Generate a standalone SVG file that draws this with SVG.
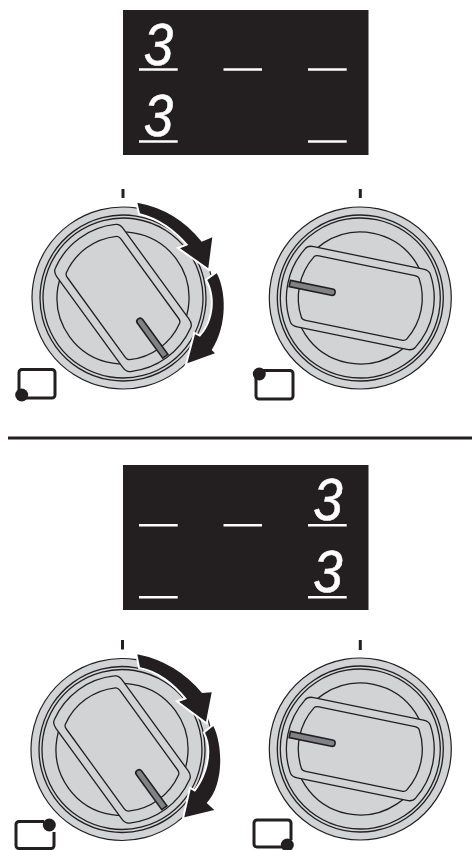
<svg xmlns="http://www.w3.org/2000/svg" width="472" height="850" viewBox="0 0 472 850">
<style>
.panel{fill:#231f20}
.bar{stroke:#fff;stroke-width:2.4;fill:none}
.digit{fill:#fff;stroke:#fff;stroke-width:.6;font-family:"Liberation Sans",Arial,sans-serif;font-style:italic;font-size:60px;text-anchor:middle}
.tick{stroke:#231f20;stroke-width:3;fill:none}
.disc{fill:#d1d3d4;stroke:#231f20;stroke-width:1.2}
.line{fill:none;stroke:#231f20;stroke-width:1.3}
.handle{fill:#d1d3d4;stroke:#231f20;stroke-width:1.3}
.pointer{fill:#808285;stroke:#231f20;stroke-width:1.6}
.arrow{fill:#231f20;stroke:#fff;stroke-width:4;stroke-linejoin:miter;paint-order:stroke}
.icon{fill:none;stroke:#231f20;stroke-width:3}
.dot{fill:#231f20}
</style>
<defs>
<g id="knob">
<circle class="disc" r="91"/>
<circle class="line" r="83"/>
<circle class="line" r="80"/>
<circle class="line" r="66"/>
<path class="handle" d="M-56,-41H56Q62,-41 64,-37A74,74 0 0 1 64,37Q62,41 56,41H-56Q-62,41 -64,37A74,74 0 0 1 -64,-37Q-62,-41 -56,-41Z"/>
<path class="line" d="M-49,-33H49Q52.500,-33 53.700,-31A62,62 0 0 1 53.700,31Q52.500,33 49,33H-49Q-52.500,33 -53.700,31A62,62 0 0 1 -53.700,-31Q-52.500,-33 -49,-33Z"/>
<path class="pointer" d="M-72,-3.200H-29a3.200,3.200 0 0 1 0,6.400H-72Z"/>
</g>
</defs>
<g id="display-top">
<rect class="panel" x="123" y="10" width="245.500" height="145"/>
<text class="digit" transform="translate(158.500,65) scale(.88,1)">3</text>
<text class="digit" transform="translate(158.500,136) scale(.88,1)">3</text>
<path class="bar" d="M139,69.500H177.700M223.500,69.500H262M308,69.500H346.700M139,141.500H177.700M308,141.500H346.700"/>
</g>
<g id="knob-top-left">
<path class="tick" d="M123,189V198"/>
<use href="#knob" transform="translate(123,298) rotate(-126)"/>
<path class="icon" d="M20.500,369.500H52a3,3 0 0 1 3,3V395a3,3 0 0 1 -3,3H24M19,393V372.500a3,3 0 0 1 3,-3"/>
<circle class="dot" cx="21.700" cy="395" r="6.500"/>
</g>
<g id="knob-top-right">
<path class="tick" d="M360.300,189V198"/>
<use href="#knob" transform="translate(360.300,298) rotate(11.600)"/>
<path class="icon" d="M262,370.500H290a3,3 0 0 1 3,3V396a3,3 0 0 1 -3,3H259a3,3 0 0 1 -3,-3V376"/>
<circle class="dot" cx="259.300" cy="374" r="6.500"/>
</g>
<g id="separator"><path d="M8,438H472" stroke="#231f20" stroke-width="3"/></g>
<g id="display-bottom">
<rect class="panel" x="123" y="465" width="245.500" height="145"/>
<text class="digit" transform="translate(328,520) scale(.88,1)">3</text>
<text class="digit" transform="translate(328,592) scale(.88,1)">3</text>
<path class="bar" d="M139,525.300H177.700M223.500,525.300H262M308,525.300H346.700M139,597.300H177.700M308,597.300H346.700"/>
</g>
<g id="knob-bottom-left">
<path class="tick" d="M122.500,640V649.500"/>
<use href="#knob" transform="translate(122,749.500) rotate(-126)"/>
<path class="icon" d="M44,821.500H19a3,3 0 0 0 -3,3V845.500a3,3 0 0 0 3,3H51a3,3 0 0 0 3,-3V832"/>
<circle class="dot" cx="49.300" cy="825" r="6.500"/>
</g>
<g id="knob-bottom-right">
<path class="tick" d="M360.300,640V650"/>
<use href="#knob" transform="translate(360.300,749) rotate(11.600)"/>
<path class="icon" d="M283,847H257a3,3 0 0 1 -3,-3V823a3,3 0 0 1 3,-3H288a3,3 0 0 1 3,3V840"/>
<circle class="dot" cx="287.300" cy="845" r="6.500"/>
</g>
<g id="connectors">
<path class="arrow" d="M137.300,202.700Q176.700,210 201.700,241.700L212.300,237.300L208.300,268.300L180,248.300L188.300,245Q166.700,220 140,213.300Z"/>
<path class="arrow" d="M216.700,273.300C226,290 228,325 211.700,350L215,353.300L187.300,363.300L195,334.300L200,336.700C212,325 218,300 207.300,280Z"/>
<path class="arrow" d="M137.300,654.300Q176,662 202,693L211.700,692.300L206,721.700L179,701.700L187,699Q165,672 140,667.300Z"/>
<path class="arrow" d="M213.300,726C223,745 224,785 206.700,803L214.300,810L184.300,817.300L190.700,789.300L195,791.700C208,775 214,750 205,732.700Z"/>
</g>
</svg>
